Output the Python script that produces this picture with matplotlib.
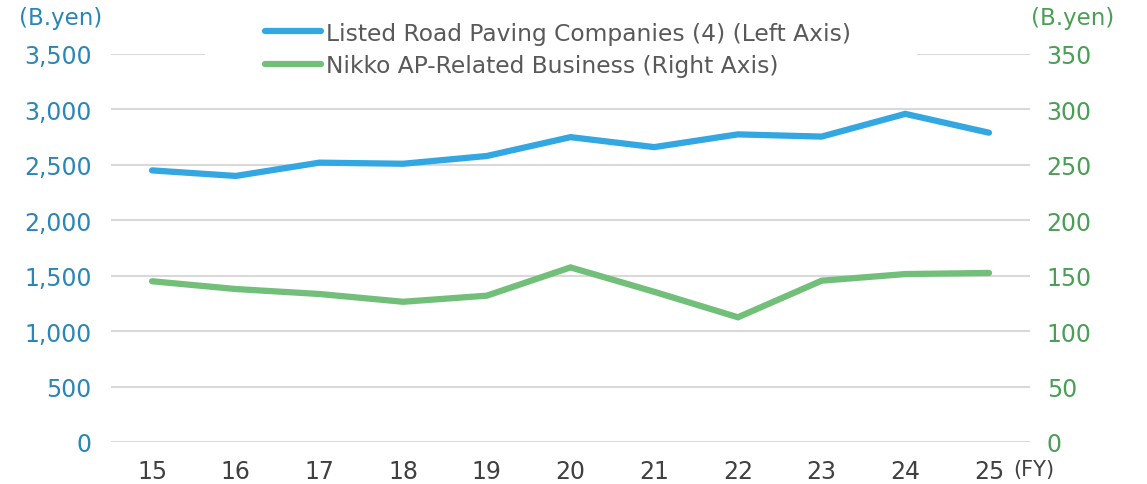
import matplotlib.pyplot as plt
from matplotlib.patches import Rectangle
from matplotlib.ticker import FuncFormatter

years = ['15', '16', '17', '18', '19', '20', '21', '22', '23', '24', '25']
paving = [2450, 2400, 2520, 2510, 2580, 2750, 2660, 2775, 2755, 2960, 2790]
nikko = [145, 138, 133.5, 126.5, 132, 157.5, 135.5, 112.5, 145.5, 151.5, 152.5]
left_ticks = [0, 500, 1000, 1500, 2000, 2500, 3000, 3500]
right_ticks = [0, 50, 100, 150, 200, 250, 300, 350]

c_blue = '#33a7e2'
c_blue_txt = '#2a86b6'
c_green = '#72bf7a'
c_green_txt = '#4a9e56'
c_grey = '#404040'

plt.rcParams['font.family'] = ['DejaVu Sans']

fig = plt.figure(figsize=(11.47, 4.85), dpi=100)
ax = fig.add_axes([0.0968, 0.0866, 0.8012, 0.80])
ax2 = ax.twinx()

x = list(range(len(years)))
ax.plot(x, paving, color=c_blue, lw=4.5, solid_capstyle='round', solid_joinstyle='miter',
        label='Listed Road Paving Companies (4) (Left Axis)', zorder=3)
ax2.plot(x, nikko, color=c_green, lw=4.5, solid_capstyle='round', solid_joinstyle='miter',
         label='Nikko AP-Related Business (Right Axis)', zorder=3)

ax.set_xlim(-0.49, len(years) - 0.51)
ax.set_ylim(0, 3500)
ax2.set_ylim(0, 350)
ax.set_yticks(left_ticks)
ax2.set_yticks(right_ticks)
ax.yaxis.set_major_formatter(FuncFormatter(lambda v, p: f'{int(v):,}'))
ax.set_xticks(x)
ax.set_xticklabels(years, fontsize=17, color=c_grey)

ax.grid(axis='y', color='#d9d9d9', lw=1.5)
ax.set_axisbelow(True)
for a in (ax, ax2):
    for s in a.spines.values():
        s.set_visible(False)
    a.tick_params(length=0)
ax.tick_params(axis='y', labelsize=17, labelcolor=c_blue_txt, pad=14)
ax.tick_params(axis='x', pad=12)
ax2.tick_params(axis='y', labelsize=17, labelcolor=c_green_txt, pad=12)

# white box behind the legend hides the top gridline
ax.add_patch(Rectangle((0.102, 0.97), 0.775, 0.06, transform=ax.transAxes,
                       facecolor='white', edgecolor='none', clip_on=False, zorder=2))

fig.text(0.017, 0.962, '(B.yen)', color=c_blue_txt, fontsize=16.5, va='center')
fig.text(0.899, 0.962, '(B.yen)', color=c_green_txt, fontsize=16.5, va='center')
fig.text(0.883, 0.03, '(FY)', color=c_grey, fontsize=15, va='center')

h1, l1 = ax.get_legend_handles_labels()
h2, l2 = ax2.get_legend_handles_labels()
leg = fig.legend(h1 + h2, l1 + l2, loc='upper left', bbox_to_anchor=(0.215, 0.992),
                 frameon=False, fontsize=16.8, handlelength=2.4, handletextpad=0.2,
                 labelspacing=0.4, borderpad=0.3, labelcolor='#595959')

fig.savefig('out.png', dpi=100)
